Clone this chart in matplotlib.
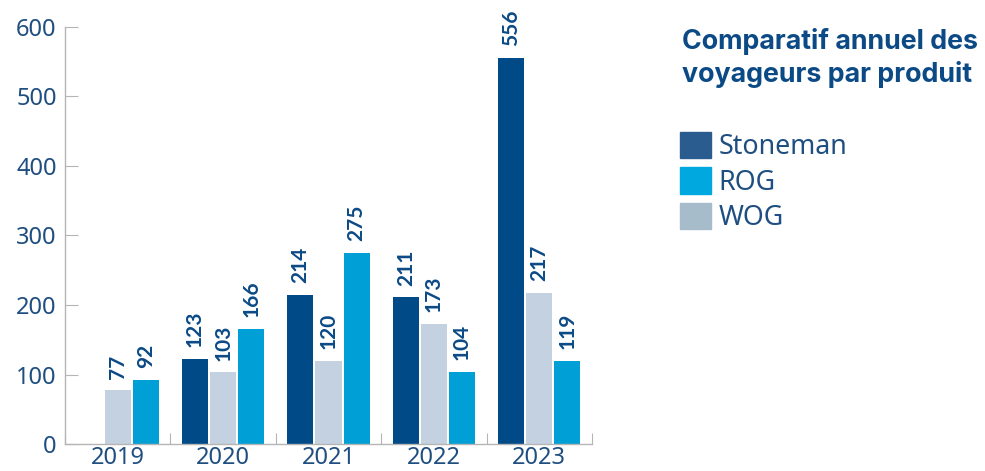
import matplotlib
matplotlib.use("Agg")
import matplotlib.pyplot as plt
from matplotlib.patches import Patch
import numpy as np

# --- data ---
years = ["2019", "2020", "2021", "2022", "2023"]
stoneman = [None, 123, 214, 211, 556]
wog = [77, 103, 120, 173, 217]
rog = [92, 166, 275, 104, 119]

# --- style ---
TXT = "#1F4E80"
LBL = "#0B4A85"
C_STONE = "#004A87"
C_WOG = "#C3D1E1"
C_ROG = "#00A0D6"
GRID = "#B5B5B5"

plt.rcParams["font.family"] = ["Noto Sans", "DejaVu Sans"]

fig = plt.figure(figsize=(9.85, 4.71), dpi=100)
ax = fig.add_axes([65 / 985, 1 - 444 / 471, (592 - 65) / 985, (444 - 27) / 471])

x = np.arange(len(years))
w = 0.247
step = 0.266

series = [(stoneman, C_STONE, -step), (wog, C_WOG, 0.0), (rog, C_ROG, step)]
for vals, col, off in series:
    for xi, v in zip(x, vals):
        if v is None:
            continue
        ax.bar(xi + off, v, width=w, color=col, zorder=2)
        ax.annotate(str(v), (xi + off, v), xytext=(0, 8.5), textcoords="offset points",
                    rotation=90, ha="center", va="bottom", fontsize=15,
                    family=["Lato", "DejaVu Sans"], fontweight="bold", color=LBL,
                    annotation_clip=False)

ax.set_xlim(-0.5, len(years) - 0.5)
ax.set_ylim(0, 600)
ax.set_yticks([0, 100, 200, 300, 400, 500, 600])

for s in ["top", "right"]:
    ax.spines[s].set_visible(False)
for s in ["left", "bottom"]:
    ax.spines[s].set_color(GRID)
    ax.spines[s].set_linewidth(1.0)

ax.tick_params(axis="y", direction="in", length=9.5, color=GRID, labelsize=17,
               labelcolor=TXT, pad=6)
ax.set_xticks(np.arange(-0.5, len(years), 1.0))
ax.set_xticklabels([])
ax.set_xticks(x, minor=True)
ax.set_xticklabels(years, minor=True)
ax.tick_params(axis="x", which="major", direction="in", length=8, color=GRID)
ax.tick_params(axis="x", which="minor", length=0, labelsize=17, labelcolor=TXT, pad=1.5)

# title + legend on the right
fig.text(682 / 985, 1 - 58 / 471, "Comparatif annuel des\nvoyageurs par produit",
         ha="left", va="center", fontsize=19.3, family=["Inter", "DejaVu Sans"],
         fontweight="bold", color=LBL, linespacing=1.3)

handles = [Patch(color="#2B5C8F", label="Stoneman"),
           Patch(color="#00A8E0", label="ROG"),
           Patch(color="#A7BCCB", label="WOG")]
fig.legend(handles=handles, loc="upper left", bbox_to_anchor=(669 / 985, 1 - 121 / 471),
           frameon=False, fontsize=19.3, labelcolor=TXT, handlelength=1.15,
           handleheight=1.15, handletextpad=0.3, labelspacing=0.23, borderaxespad=0)

fig.savefig("out.png", dpi=100)
